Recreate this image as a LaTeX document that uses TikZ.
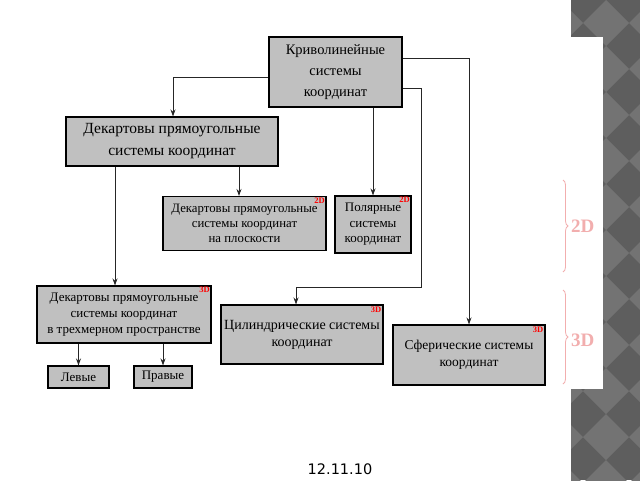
\documentclass[tikz,border=0pt]{standalone}
\usepackage{fontspec}
\setmainfont{Liberation Serif}
\newfontfamily\datefont{DejaVu Sans}
\usetikzlibrary{arrows.meta,decorations.pathreplacing}
\definecolor{boxgray}{HTML}{C0C0C0}
\definecolor{chkdark}{HTML}{5E5E5E}
\definecolor{chklight}{HTML}{737373}
\definecolor{pinkbr}{HTML}{F2AEAE}
\tikzset{
  box/.style={draw=black, line width=1.1pt, fill=boxgray, inner sep=1pt, align=center,
    font=\fontsize{12.8}{15}\selectfont},
  arr/.style={draw=black!85, line width=0.9pt, -{Stealth[length=7pt,width=5pt]}},
  dmark/.style={text=red, font=\bfseries\fontsize{8.5}{9}\selectfont, inner sep=0pt},
  brace/.style={draw=pinkbr, line width=0.8pt, decorate, decoration={brace, amplitude=5pt}},
  blabel/.style={text=pinkbr, font=\bfseries\fontsize{19}{19}\selectfont, inner sep=0pt, anchor=west}
}
\begin{document}
\begin{tikzpicture}[x=1pt,y=-1pt]
\useasboundingbox (0,0) rectangle (640,480);
\fill[white] (0,0) rectangle (640,480);
% checkered strip
\begin{scope}
\clip (571,0) rectangle (640,480);
\fill[chkdark] (571,0) rectangle (640,480);
\foreach \i in {0,...,11}{
  \foreach \j in {0,1,2}{
    \fill[chklight] ({560+\j*46},{\i*46}) -- ++(23,23) -- ++(-23,23) -- ++(-23,-23) -- cycle;
  }
}
\end{scope}
\fill[white] (0,37) rectangle (603,389);

% boxes
\node[box, minimum width=133, minimum height=70, font=\fontsize{14.5}{21}\selectfont] (top) at (335.5,72) {Криволинейные\\системы\\координат};
\node[box, minimum width=212, minimum height=49, font=\fontsize{15.5}{22}\selectfont] (b1) at (172,141.5) {Декартовы прямоугольные\\системы координат};
\node[box, minimum width=163, minimum height=54] (plane) at (244.5,223.5) {Декартовы прямоугольные\\системы координат\\на плоскости};
\node[box, minimum width=76, minimum height=57, font=\fontsize{13}{15.5}\selectfont] (polar) at (373,224.5) {Полярные\\системы\\координат};
\node[box, minimum width=174, minimum height=57, font=\fontsize{13}{16}\selectfont] (d3) at (124,314.5) {Декартовы прямоугольные\\системы координат\\в трехмерном пространстве};
\node[box, minimum width=61, minimum height=22, font=\fontsize{13}{14}\selectfont] (lft) at (78.5,377) {Левые};
\node[box, minimum width=58, minimum height=22, font=\fontsize{13}{14}\selectfont] (rgt) at (163,377) {Правые};
\node[box, minimum width=162, minimum height=59, font=\fontsize{14}{17}\selectfont] (cyl) at (302,334.5) {Цилиндрические системы\\координат};
\node[box, minimum width=152, minimum height=60, font=\fontsize{13.5}{17}\selectfont] (sph) at (469,355) {Сферические системы\\координат};

% dimension marks
\node[dmark, anchor=north east] (m1) at ([xshift=-1.5pt,yshift=-1.5pt]plane.north east) {2D};
\node[dmark, anchor=north east] (m2) at ([xshift=-1.5pt,yshift=-1.5pt]polar.north east) {2D};
\node[dmark, anchor=north east] (m3) at ([xshift=-1.5pt,yshift=-1.5pt]d3.north east) {3D};
\node[dmark, anchor=north east] (m4) at ([xshift=-2pt,yshift=-2pt]cyl.north east) {3D};
\node[dmark, anchor=north east] (m5) at ([xshift=-2pt,yshift=-2pt]sph.north east) {3D};

% connectors
\coordinate (c1) at (421,287);
\draw[arr] ([yshift=-5pt]top.west) -| ([xshift=1pt]b1.north);
\draw[arr] ([yshift=14pt]top.east) -| (sph.north);
\draw[arr] ([yshift=-16pt]top.east) -| (c1) -| ([xshift=-6pt]cyl.north);
\draw[arr] (top.south -| polar.north) -- (polar.north);
\coordinate (p1) at ([xshift=-5.5pt]plane.north);
\draw[arr] (b1.south -| p1) -- (p1);
\coordinate (p2) at ([xshift=-9pt]d3.north);
\draw[arr] (b1.south -| p2) -- (p2);
\draw[arr] (d3.south -| lft.north) -- (lft.north);
\draw[arr] (d3.south -| rgt.north) -- (rgt.north);

% braces
\draw[brace] (563,180) -- (563,272);
\draw[brace] (563,290) -- (563,384);
\node[blabel] (l2) at (571,226) {2D};
\node[blabel] (l3) at (571,340) {3D};

% date
\node[font=\datefont\fontsize{14.5}{16}\selectfont, inner sep=0pt] (date) at (340,469) {12.11.10};
\end{tikzpicture}
\end{document}
